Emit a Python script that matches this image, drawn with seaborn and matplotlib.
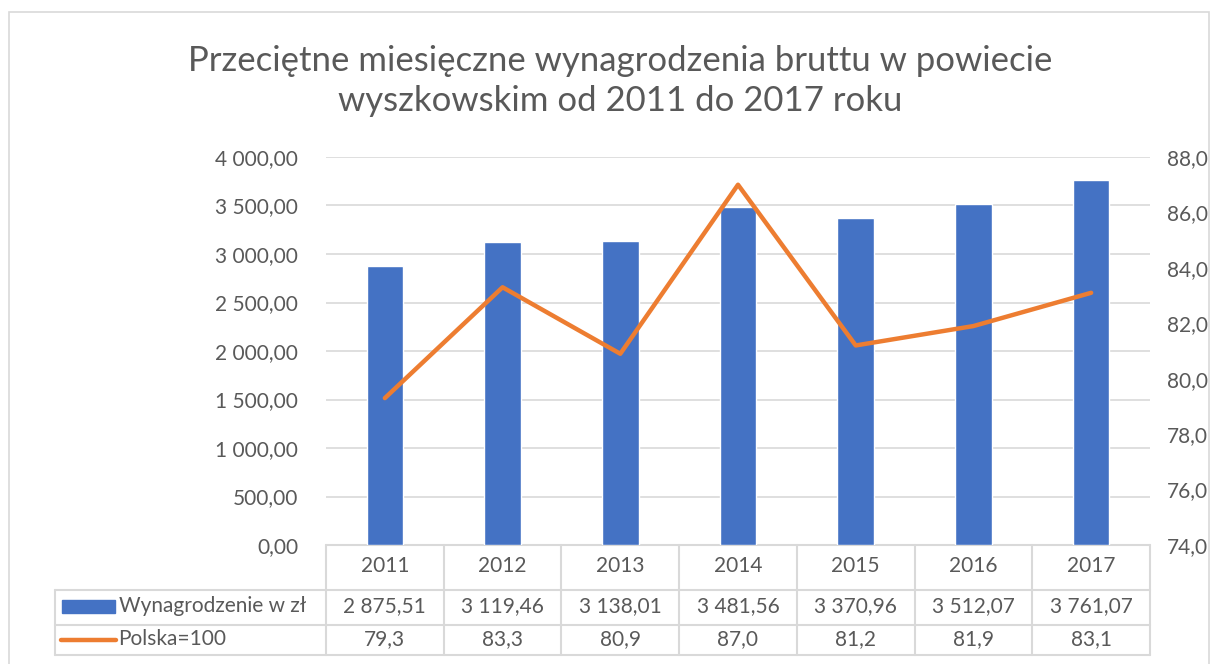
import matplotlib
matplotlib.use("Agg")
import matplotlib.pyplot as plt
import seaborn as sns
import pandas as pd
from matplotlib.lines import Line2D
from matplotlib.patches import Rectangle

# --- data ---
years = ["2011", "2012", "2013", "2014", "2015", "2016", "2017"]
wages = [2875.51, 3119.46, 3138.01, 3481.56, 3370.96, 3512.07, 3761.07]
index_pl = [79.3, 83.3, 80.9, 87.0, 81.2, 81.9, 83.1]
wage_labels = ["2 875,51", "3 119,46", "3 138,01", "3 481,56", "3 370,96", "3 512,07", "3 761,07"]
index_labels = ["79,3", "83,3", "80,9", "87,0", "81,2", "81,9", "83,1"]
left_ticks = [0, 500, 1000, 1500, 2000, 2500, 3000, 3500, 4000]
right_ticks = [74, 76, 78, 80, 82, 84, 86, 88]

BAR = "#4472C4"
LINE = "#ED7D31"
TXT = "#595959"
GRID = "#D9D9D9"

sns.set_theme(style="white")
plt.rcParams['font.family'] = ['Lato', 'DejaVu Sans']

df = pd.DataFrame({"rok": years, "wynagrodzenie": wages, "indeks": index_pl})

fig = plt.figure(figsize=(12.2, 6.64), dpi=100)
ax = fig.add_axes([326 / 1220, 1 - 545 / 664, (1150 - 326) / 1220, (545 - 157) / 664])

sns.barplot(data=df, x="rok", y="wynagrodzenie", color=BAR, width=0.31,
            saturation=1, ax=ax, zorder=3)
ax.set_ylim(0, 4000)
ax.set_xlim(-0.5, 6.5)
ax.set_yticks(left_ticks)
ax.set_yticklabels([f"{v:,.2f}".replace(",", " ").replace(".", ",") for v in left_ticks])
ax.set_xticks([])
ax.set_xlabel("")
ax.set_ylabel("")
ax.grid(axis="y", color=GRID, linewidth=1.2, zorder=0)
ax.tick_params(axis="y", length=0, pad=20, labelsize=15, labelcolor=TXT)
for s in ax.spines.values():
    s.set_visible(False)

ax2 = ax.twinx()
sns.lineplot(x=list(range(len(years))), y=index_pl, color=LINE, linewidth=3.2, ax=ax2,
             solid_capstyle="round", zorder=4)
ax2.set_ylim(74, 88)
ax2.set_yticks(right_ticks)
ax2.set_yticklabels([f"{v:.1f}".replace(".", ",") for v in right_ticks])
ax2.tick_params(axis="y", length=0, pad=12, labelsize=15, labelcolor=TXT)
ax2.grid(False)
for s in ax2.spines.values():
    s.set_visible(False)

# --- data table under the plot ---
tr = ax.get_xaxis_transform()
ph = (545 - 157)  # plot height in px
def yf(px):
    return -(px - 545) / ph

row_y = [545, 590, 625, 655]
left_x = -0.5 - (326 - 55) / ((1150 - 326) / 7)
lc = dict(color=GRID, linewidth=1.5, transform=tr, clip_on=False)
# horizontal lines
ax.add_line(Line2D([-0.5, 6.5], [yf(545)] * 2, **lc))
for y in row_y[1:]:
    ax.add_line(Line2D([left_x, 6.5], [yf(y)] * 2, **lc))
# vertical lines
for i in range(8):
    ax.add_line(Line2D([i - 0.5] * 2, [yf(545), yf(655)], **lc))
ax.add_line(Line2D([left_x] * 2, [yf(590), yf(655)], **lc))

fs = 15
for i, y in enumerate(years):
    ax.text(i, yf(566), y, transform=tr, ha="center", va="center", fontsize=fs, color=TXT)
    ax.text(i, yf(606), wage_labels[i], transform=tr, ha="center", va="center", fontsize=fs, color=TXT)
    ax.text(i, yf(639), index_labels[i], transform=tr, ha="center", va="center", fontsize=fs, color=TXT)

# legend keys inside the table
ax.add_patch(Rectangle((left_x + 0.06, yf(613)), 0.45, yf(600) - yf(613), transform=tr,
                       color=BAR, clip_on=False))
ax.add_line(Line2D([left_x + 0.05, left_x + 0.52], [yf(640)] * 2, color=LINE, linewidth=3.2,
                   solid_capstyle="round", transform=tr, clip_on=False))
ax.text(left_x + 0.54, yf(606), "Wynagrodzenie w zł", transform=tr, ha="left", va="center",
        fontsize=fs, color=TXT)
ax.text(left_x + 0.54, yf(639), "Polska=100", transform=tr, ha="left", va="center",
        fontsize=fs, color=TXT)

fig.text(0.508, 1 - 81 / 664,
         "Przeciętne miesięczne wynagrodzenia bruttu w powiecie\nwyszkowskim od 2011 do 2017 roku",
         ha="center", va="center", fontsize=25, color=TXT, linespacing=1.3)

# chart frame
fig.add_artist(Rectangle((9 / 1220, -0.01), 1 - 20 / 1220, 1 - 12 / 664 + 0.01,
                         transform=fig.transFigure, fill=False, edgecolor=GRID, linewidth=1.2))

fig.savefig("out.png", dpi=100)
